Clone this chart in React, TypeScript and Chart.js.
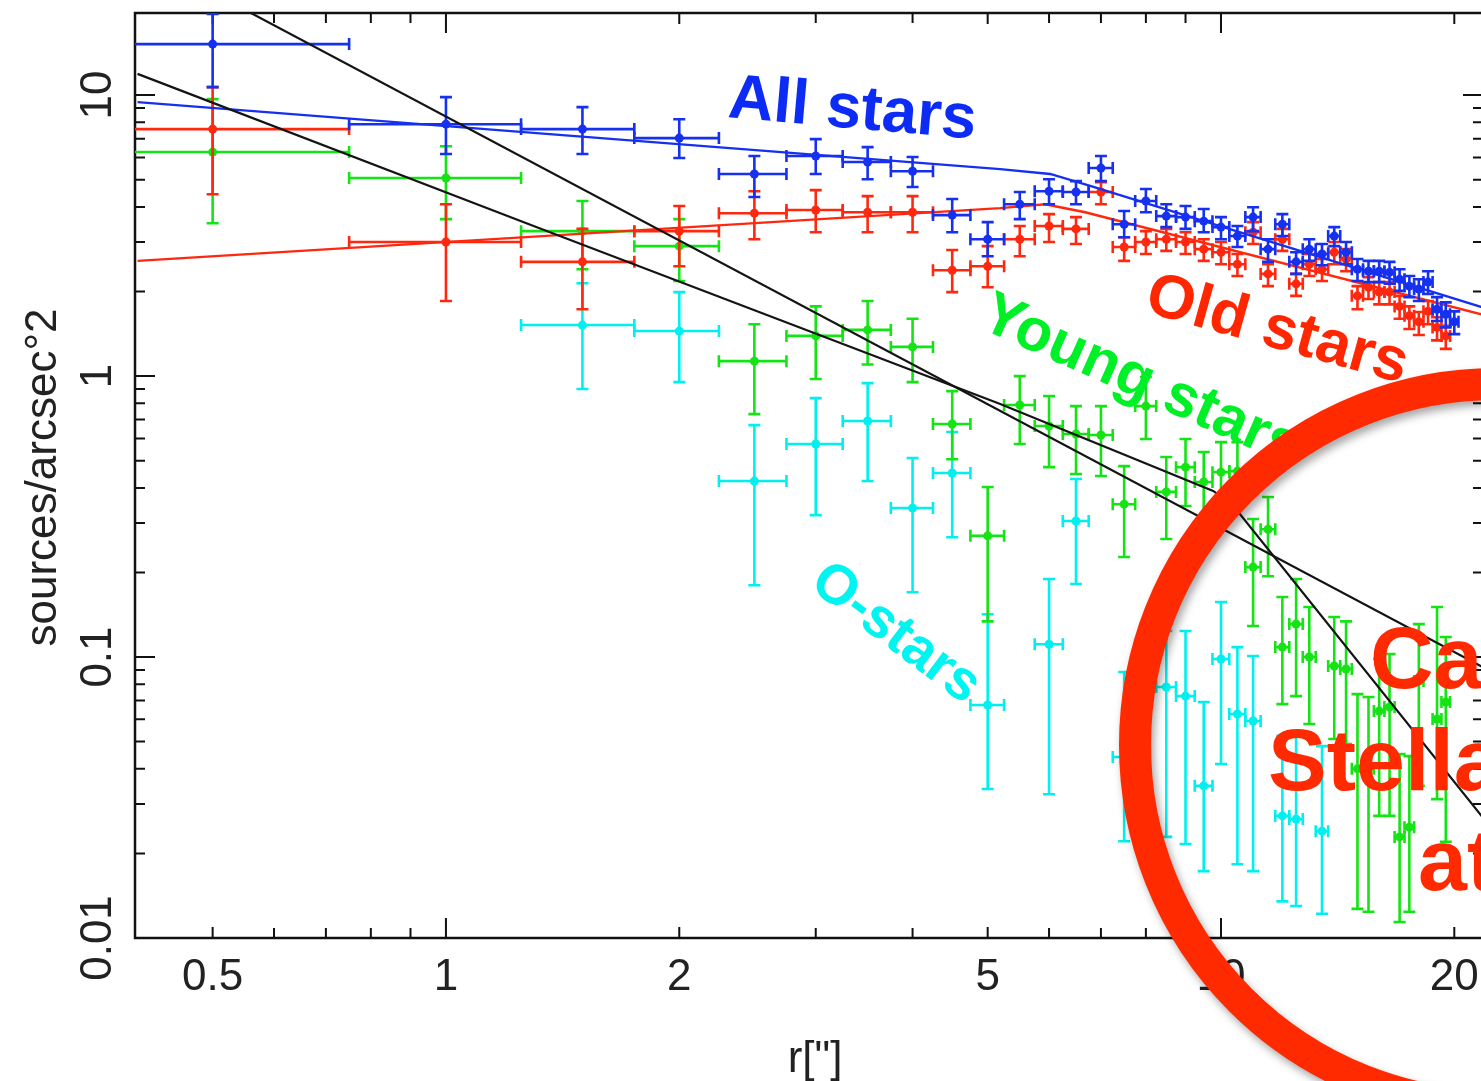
import React, { useEffect, useRef } from "react";
import { Chart, registerables } from "chart.js";

Chart.register(...registerables);

// ---------------- data ----------------
const BIN_HALF_WIDTH = 0.25;

// All stars
const allR = [0.5, 1, 1.5, 2, 2.5, 3, 3.5, 4, 4.5, 5, 5.5, 6, 6.5, 7, 7.5, 8, 8.5, 9, 9.5, 10, 10.5, 11, 11.5, 12, 12.5, 13, 13.5, 14, 14.5, 15, 15.5, 16, 16.5, 17, 17.5, 18, 18.5, 19, 19.5, 20];
const allY = [15.19, 7.88, 7.57, 7.03, 5.24, 6.07, 5.78, 5.36, 3.74, 3.07, 4.09, 4.55, 4.52, 5.5, 3.47, 4.2, 3.71, 3.68, 3.56, 3.39, 3.15, 3.68, 2.83, 3.47, 2.55, 2.83, 2.72, 3.15, 2.76, 2.4, 2.36, 2.36, 2.34, 2.21, 2.09, 2.04, 2.16, 1.73, 1.66, 1.56];
const allLo = [10.68, 6.17, 6.17, 5.97, 4.34, 5.24, 5.02, 4.71, 3.25, 2.67, 3.62, 4.09, 4.09, 4.94, 3.12, 3.83, 3.39, 3.34, 3.25, 3.07, 2.88, 3.28, 2.55, 3.15, 2.31, 2.57, 2.48, 2.9, 2.5, 2.18, 2.16, 2.16, 2.13, 2.01, 1.91, 1.85, 1.96, 1.57, 1.49, 1.41];
const allHi = [19.43, 9.84, 9.06, 8.21, 6.07, 6.97, 6.53, 6.02, 4.27, 3.53, 4.52, 5.02, 4.94, 6.07, 3.87, 4.63, 4.09, 4.03, 3.93, 3.68, 3.42, 3.99, 3.07, 3.77, 2.76, 3.07, 2.95, 3.39, 3.0, 2.61, 2.57, 2.57, 2.55, 2.4, 2.27, 2.21, 2.36, 1.91, 1.83, 1.7];

// Old stars
const oldR = [0.5, 1, 1.5, 2, 2.5, 3, 3.5, 4, 4.5, 5, 5.5, 6, 6.5, 7, 7.5, 8, 8.5, 9, 9.5, 10, 10.5, 11, 11.5, 12, 12.5, 13, 13.5, 14, 14.5, 15, 15.5, 16, 16.5, 17, 17.5, 18, 18.5, 19, 19.5];
const oldY = [7.57, 3.0, 2.55, 3.28, 3.8, 3.9, 3.83, 3.83, 2.38, 2.46, 3.07, 3.42, 3.34, 4.52, 2.88, 3.0, 3.07, 3.0, 2.83, 2.76, 2.5, 3.25, 2.31, 3.07, 2.13, 2.5, 2.4, 2.76, 2.61, 1.93, 2.07, 1.99, 1.99, 1.77, 1.64, 1.56, 1.7, 1.49, 1.39];
const oldLo = [4.44, 1.85, 1.73, 2.46, 3.07, 3.25, 3.25, 3.25, 1.99, 2.07, 2.67, 3.0, 2.95, 4.09, 2.57, 2.72, 2.79, 2.72, 2.57, 2.5, 2.27, 2.95, 2.09, 2.79, 1.93, 2.27, 2.18, 2.5, 2.36, 1.73, 1.88, 1.8, 1.8, 1.6, 1.47, 1.4, 1.53, 1.34, 1.25];
const oldHi = [10.68, 4.09, 3.34, 4.03, 4.55, 4.59, 4.37, 4.37, 2.81, 2.9, 3.42, 3.77, 3.68, 4.9, 3.12, 3.28, 3.34, 3.25, 3.07, 3.0, 2.72, 3.53, 2.5, 3.34, 2.31, 2.72, 2.61, 3.0, 2.83, 2.09, 2.25, 2.16, 2.16, 1.93, 1.77, 1.69, 1.85, 1.62, 1.51];

// Young stars
const youngR = [0.5, 1, 1.5, 2, 2.5, 3, 3.5, 4, 4.5, 5, 5.5, 6, 6.5, 7, 7.5, 8, 8.5, 9, 9.5, 10, 10.5, 11, 11.5, 12, 12.5, 13, 14, 14.5, 15, 15.5, 16, 16.5, 17, 17.5, 18, 19, 19.5];
const youngY = [6.27, 5.07, 3.28, 2.9, 1.13, 1.39, 1.46, 1.27, 0.675, 0.27, 0.789, 0.664, 0.622, 0.617, 0.35, 0.782, 0.387, 0.474, 0.42, 0.455, 0.459, 0.209, 0.285, 0.1085, 0.131, 0.1, 0.0929, 0.0907, 0.04, 0.04, 0.0642, 0.0664, 0.0229, 0.0248, 0.0821, 0.0602, 0.0692];
const youngLo = [3.5, 3.62, 2.4, 2.18, 0.732, 0.976, 1.1, 0.952, 0.506, 0.134, 0.573, 0.474, 0.448, 0.441, 0.227, 0.597, 0.263, 0.345, 0.318, 0.35, 0.356, 0.129, 0.194, 0.068, 0.0726, 0.0578, 0.0511, 0.049, 0.0127, 0.0124, 0.0272, 0.0272, 0.0114, 0.0124, 0.0348, 0.0312, 0.022];
const youngHi = [9.68, 6.58, 4.2, 3.62, 1.53, 1.77, 1.85, 1.6, 0.884, 0.403, 1.0, 0.849, 0.782, 0.782, 0.478, 0.992, 0.515, 0.597, 0.537, 0.582, 0.582, 0.31, 0.371, 0.1635, 0.1895, 0.1507, 0.1388, 0.134, 0.0738, 0.0721, 0.0984, 0.1025, 0.0452, 0.0444, 0.131, 0.1507, 0.1178];

// O-stars
const oR = [1.5, 2, 2.5, 3, 3.5, 4, 4.5, 5, 6, 6.5, 7.5, 8.5, 9, 9.5, 10, 10.5, 11, 12, 12.5, 13.5];
const oY = [1.519, 1.446, 0.423, 0.573, 0.692, 0.339, 0.452, 0.0675, 0.111, 0.305, 0.0441, 0.0782, 0.0726, 0.0348, 0.0984, 0.0627, 0.0592, 0.0272, 0.0265, 0.024];
const oLo = [0.899, 0.952, 0.18, 0.32, 0.423, 0.17, 0.267, 0.0339, 0.0325, 0.182, 0.0221, 0.0229, 0.0216, 0.0173, 0.0416, 0.0183, 0.0173, 0.0135, 0.013, 0.0122];
const oHi = [2.14, 1.99, 0.669, 0.835, 0.944, 0.511, 0.632, 0.142, 0.1895, 0.43, 0.0885, 0.1238, 0.1238, 0.0692, 0.157, 0.1085, 0.1008, 0.0524, 0.0524, 0.0482];

// model curves
const allModelR = [0.4, 5.19, 6.02, 6.78, 22];
const allModelY = [9.44, 5.45, 5.24, 4.75, 1.74];
const oldModelR = [0.4, 5.19, 5.93, 6.68, 22];
const oldModelY = [2.57, 3.96, 4.09, 3.83, 1.64];
const fitAR = [0.4, 22];
const fitAY = [32.1, 0.0907];
const fitBR = [0.4, 1.28, 5.19, 9.77, 10.33, 22];
const fitBY = [11.9, 3.47, 0.795, 0.39, 0.35, 0.0259];

// axes
const X_MIN = 0.397;
const X_MAX = 21.78;
const Y_MIN = 0.01;
const Y_MAX = 19.6;
const X_TICK_LABELS = [0.5, 1, 2, 5, 10, 20];
const X_DECADES = [1, 10];
const X_MINOR = [0.6, 0.7, 0.8, 0.9, 3, 4, 6, 7, 8, 9];
const Y_TICK_LABELS = [0.01, 0.1, 1, 10];
const Y_MINOR = [0.02, 0.03, 0.04, 0.05, 0.06, 0.07, 0.08, 0.09, 0.2, 0.3, 0.4, 0.5, 0.6, 0.7, 0.8, 0.9, 2, 3, 4, 5, 6, 7, 8, 9];
const X_TITLE = 'r["]';
const Y_TITLE = "sources/arcsec°2";

// annotations
const LABEL_TEXTS = ["All stars", "Old stars", "Young stars", "O-stars"];
const LABEL_R = [2.305, 7.93, 4.86, 2.932];
const LABEL_V = [8.35, 1.7, 1.494, 0.1775];
const CALLOUT_LINES = ["Ca", "Stella", "at"];

// ---------------- styles ----------------
const BLUE = "rgb(22, 48, 240)";
const RED = "rgb(255, 40, 15)";
const GREEN = "rgb(20, 228, 20)";
const CYAN = "rgb(0, 240, 240)";
const BLACK = "rgb(20, 20, 20)";
const LABEL_STYLE = [
  { color: "rgb(12, 44, 245)", angle: 5, size: 63 },
  { color: "rgb(255, 38, 0)", angle: 15.5, size: 62 },
  { color: "rgb(0, 240, 40)", angle: 24, size: 60 },
  { color: "rgb(0, 245, 240)", angle: 37, size: 56 },
];
const CALLOUT_COLOR = "rgb(255, 42, 0)";
const CALLOUT_POS = [
  { x: 1370, y: 688 },
  { x: 1268, y: 790 },
  { x: 1418, y: 890 },
];
const RING = { cx: 1496, cy: 745, r: 361, width: 32 };
const CANVAS_W = 1500;
const CANVAS_H = 1081;
const FONT = '"Liberation Sans", Arial, Helvetica, sans-serif';

const pts = (r: number[], v: number[]) => r.map((x, i) => ({ x, y: v[i] }));

export default function App() {
  const ref = useRef<HTMLCanvasElement | null>(null);

  useEffect(() => {
    const canvas = ref.current;
    if (!canvas) return;

    const errorSets: Record<number, { r: number[]; y: number[]; lo: number[]; hi: number[]; color: string }> = {};

    const datasets: any[] = [
      { label: "fitA", data: pts(fitAR, fitAY), showLine: true, borderColor: BLACK, borderWidth: 2.2, pointRadius: 0 },
      { label: "fitB", data: pts(fitBR, fitBY), showLine: true, borderColor: BLACK, borderWidth: 2.2, pointRadius: 0 },
      { label: "allModel", data: pts(allModelR, allModelY), showLine: true, borderColor: BLUE, borderWidth: 2.4, pointRadius: 0 },
      { label: "All stars", data: pts(allR, allY), showLine: false, pointRadius: 4.5, backgroundColor: BLUE, borderWidth: 0 },
      { label: "oldModel", data: pts(oldModelR, oldModelY), showLine: true, borderColor: RED, borderWidth: 2.4, pointRadius: 0 },
      { label: "Old stars", data: pts(oldR, oldY), showLine: false, pointRadius: 4.5, backgroundColor: RED, borderWidth: 0 },
      { label: "Young stars", data: pts(youngR, youngY), showLine: false, pointRadius: 4.5, backgroundColor: GREEN, borderWidth: 0 },
      { label: "O-stars", data: pts(oR, oY), showLine: false, pointRadius: 4.5, backgroundColor: CYAN, borderWidth: 0 },
    ];
    errorSets[3] = { r: allR, y: allY, lo: allLo, hi: allHi, color: BLUE };
    errorSets[5] = { r: oldR, y: oldY, lo: oldLo, hi: oldHi, color: RED };
    errorSets[6] = { r: youngR, y: youngY, lo: youngLo, hi: youngHi, color: GREEN };
    errorSets[7] = { r: oR, y: oY, lo: oLo, hi: oHi, color: CYAN };

    const overlay = {
      id: "overlay",
      beforeDatasetsDraw(chart: any) {
        const { ctx, chartArea: a, scales } = chart;
        const xs = scales.x;
        const ys = scales.y;
        ctx.save();
        ctx.strokeStyle = "#111";
        ctx.lineWidth = 2;
        const tickX = (v: number, len: number) => {
          const p = xs.getPixelForValue(v);
          ctx.beginPath();
          ctx.moveTo(p, a.bottom);
          ctx.lineTo(p, a.bottom - len);
          ctx.moveTo(p, a.top);
          ctx.lineTo(p, a.top + len);
          ctx.stroke();
        };
        const tickY = (v: number, len: number) => {
          const p = ys.getPixelForValue(v);
          ctx.beginPath();
          ctx.moveTo(a.left, p);
          ctx.lineTo(a.left + len, p);
          ctx.moveTo(a.right, p);
          ctx.lineTo(a.right - len, p);
          ctx.stroke();
        };
        X_MINOR.forEach((v) => tickX(v, 10));
        X_TICK_LABELS.forEach((v) => tickX(v, X_DECADES.includes(v) ? 20 : 11));
        Y_MINOR.forEach((v) => tickY(v, 10));
        Y_TICK_LABELS.forEach((v) => tickY(v, 20));
        ctx.lineWidth = 2.5;
        ctx.strokeRect(a.left, a.top, a.right - a.left, a.bottom - a.top);

        ctx.fillStyle = "#222";
        ctx.font = `44px ${FONT}`;
        ctx.textAlign = "center";
        ctx.textBaseline = "alphabetic";
        X_TICK_LABELS.forEach((v) => {
          ctx.fillText(String(v), xs.getPixelForValue(v), a.bottom + 52);
        });
        Y_TICK_LABELS.forEach((v) => {
          ctx.save();
          ctx.translate(a.left - 24, ys.getPixelForValue(v));
          ctx.rotate(-Math.PI / 2);
          ctx.fillText(String(v), 0, 0);
          ctx.restore();
        });
        ctx.fillText(X_TITLE, 815, 1072);
        ctx.save();
        ctx.translate(56, (a.top + a.bottom) / 2 + 2);
        ctx.rotate(-Math.PI / 2);
        ctx.fillText(Y_TITLE, 0, 0);
        ctx.restore();
        ctx.restore();
      },
      beforeDatasetDraw(chart: any, args: any) {
        const e = errorSets[args.index];
        if (!e) return;
        const { ctx, chartArea: a, scales } = chart;
        const xs = scales.x;
        const ys = scales.y;
        ctx.save();
        ctx.beginPath();
        ctx.rect(a.left, a.top, a.right - a.left, a.bottom - a.top);
        ctx.clip();
        ctx.strokeStyle = e.color;
        ctx.lineWidth = 2.6;
        const cap = 6;
        e.r.forEach((r, i) => {
          const px = xs.getPixelForValue(r);
          const py = ys.getPixelForValue(e.y[i]);
          const xl = xs.getPixelForValue(r - BIN_HALF_WIDTH);
          const xr = xs.getPixelForValue(r + BIN_HALF_WIDTH);
          const yt = ys.getPixelForValue(e.hi[i]);
          const yb = ys.getPixelForValue(e.lo[i]);
          ctx.beginPath();
          ctx.moveTo(xl, py);
          ctx.lineTo(xr, py);
          ctx.moveTo(xl, py - cap);
          ctx.lineTo(xl, py + cap);
          ctx.moveTo(xr, py - cap);
          ctx.lineTo(xr, py + cap);
          ctx.moveTo(px, yt);
          ctx.lineTo(px, yb);
          ctx.moveTo(px - cap, yt);
          ctx.lineTo(px + cap, yt);
          ctx.moveTo(px - cap, yb);
          ctx.lineTo(px + cap, yb);
          ctx.stroke();
        });
        ctx.restore();
      },
      afterDraw(chart: any) {
        const { ctx, scales } = chart;
        const xs = scales.x;
        const ys = scales.y;
        ctx.save();
        ctx.textAlign = "left";
        ctx.textBaseline = "alphabetic";
        LABEL_TEXTS.forEach((t, i) => {
          const st = LABEL_STYLE[i];
          ctx.save();
          ctx.translate(xs.getPixelForValue(LABEL_R[i]), ys.getPixelForValue(LABEL_V[i]));
          ctx.rotate((st.angle * Math.PI) / 180);
          ctx.font = `bold ${st.size}px ${FONT}`;
          ctx.fillStyle = st.color;
          ctx.fillText(t, 0, 0);
          ctx.restore();
        });
        // ring
        ctx.save();
        ctx.shadowColor = "rgba(0,0,0,0.35)";
        ctx.shadowBlur = 8;
        ctx.shadowOffsetX = 3;
        ctx.shadowOffsetY = 5;
        ctx.strokeStyle = CALLOUT_COLOR;
        ctx.lineWidth = RING.width;
        ctx.beginPath();
        ctx.arc(RING.cx, RING.cy, RING.r, 0, Math.PI * 2);
        ctx.stroke();
        ctx.restore();
        ctx.font = `bold 88px ${FONT}`;
        ctx.fillStyle = CALLOUT_COLOR;
        CALLOUT_LINES.forEach((t, i) => ctx.fillText(t, CALLOUT_POS[i].x, CALLOUT_POS[i].y));
        ctx.restore();
      },
    };

    const chart = new Chart(canvas, {
      type: "scatter",
      data: { datasets },
      options: {
        responsive: false,
        maintainAspectRatio: false,
        animation: false,
        devicePixelRatio: 1,
        events: [],
        layout: { padding: { left: 135, right: CANVAS_W - 1483, top: 13, bottom: CANVAS_H - 938 } },
        plugins: { legend: { display: false }, tooltip: { enabled: false } },
        scales: {
          x: { type: "logarithmic", min: X_MIN, max: X_MAX, display: false },
          y: { type: "logarithmic", min: Y_MIN, max: Y_MAX, display: false },
        },
      } as any,
      plugins: [overlay],
    });
    return () => chart.destroy();
  }, []);

  return (
    <div style={{ position: "fixed", left: 0, top: 0, width: 1481, height: 1081, overflow: "hidden", background: "#fff" }}>
      <canvas ref={ref} width={CANVAS_W} height={CANVAS_H} style={{ display: "block", width: CANVAS_W, height: CANVAS_H }} />
    </div>
  );
}
